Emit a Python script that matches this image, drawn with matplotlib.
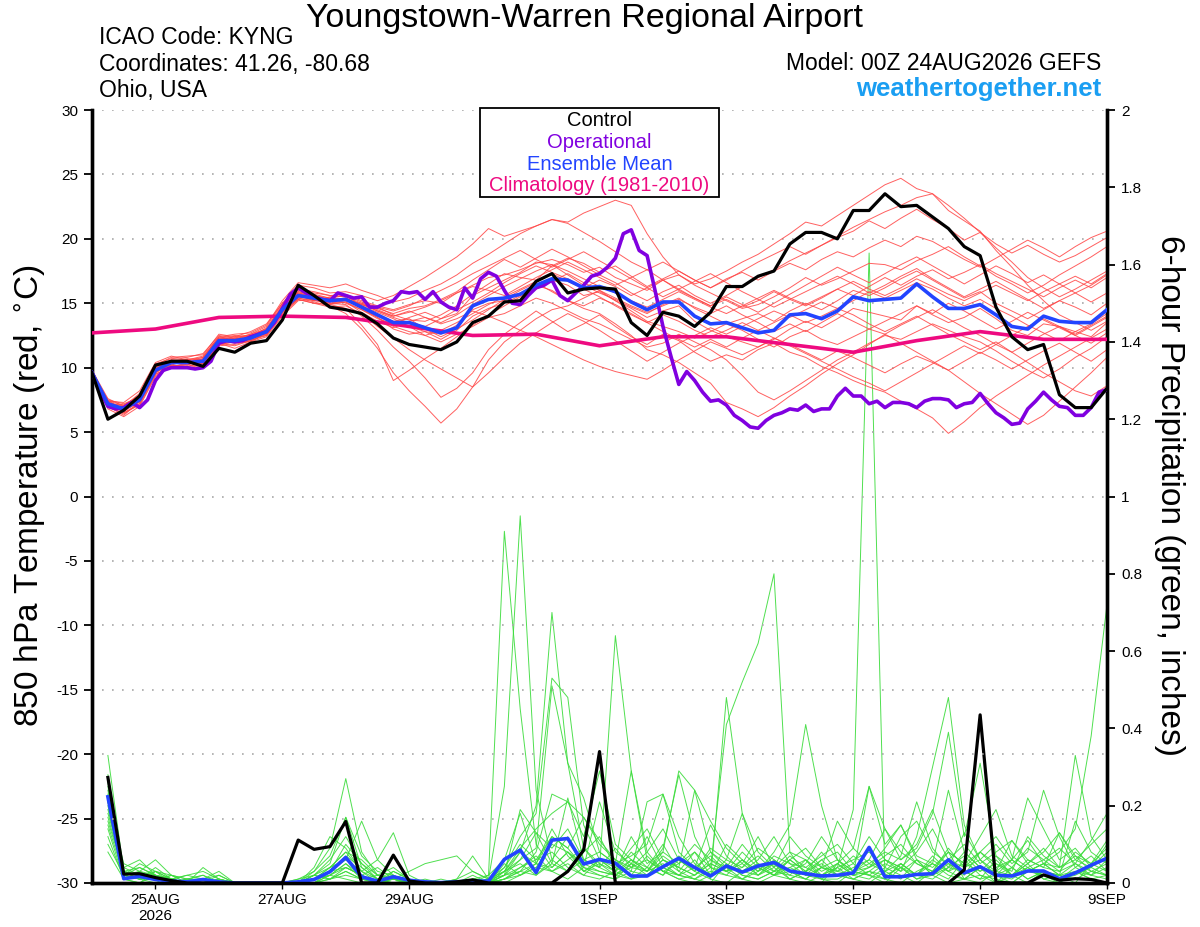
import matplotlib
matplotlib.use("Agg")
import matplotlib.pyplot as plt
from matplotlib.patches import Rectangle
import numpy as np

plt.rcParams['font.family'] = ['Liberation Sans', 'DejaVu Sans']
plt.rcParams['axes.unicode_minus'] = False

# ---- data (6-hourly from 24AUG2026 00Z) ----
ctrl_t = [9.6, 6.0, 6.7, 7.8, 10.2, 10.5, 10.5, 10.1, 11.5, 11.2, 11.9, 12.1, 13.7,
          16.4, 15.6, 14.7, 14.5, 14.2, 13.4, 12.3, 11.8, 11.6, 11.4, 12.0, 13.5, 14.0,
          15.1, 15.2, 16.7, 17.3, 15.8, 16.1, 16.2, 16.1, 13.5, 12.5, 14.3, 14.0, 13.2,
          14.3, 16.3, 16.3, 17.1, 17.5, 19.6, 20.5, 20.5, 20.0, 22.2, 22.2, 23.5, 22.5,
          22.6, 21.7, 20.8, 19.4, 18.7, 14.7, 12.4, 11.4, 11.8, 7.9, 6.9, 6.9, 8.4]

mean_t = [9.6, 7.2, 6.8, 7.5, 9.8, 10.4, 10.4, 10.5, 12.1, 12.1, 12.3, 12.8, 14.5,
          15.6, 15.4, 15.2, 15.3, 14.7, 14.1, 13.5, 13.5, 13.1, 12.7, 13.1, 14.8, 15.3,
          15.4, 15.7, 16.4, 16.9, 16.8, 16.2, 16.3, 15.9, 15.1, 14.5, 15.1, 15.1, 14.0,
          13.4, 13.5, 13.1, 12.7, 12.9, 14.1, 14.2, 13.8, 14.4, 15.5, 15.2, 15.3, 15.4,
          16.5, 15.5, 14.6, 14.6, 14.9, 14.1, 13.2, 13.0, 14.0, 13.6, 13.5, 13.5, 14.5]

# operational run is 3-hourly
oper_t = [9.6, 8.2, 7.0, 6.8, 6.9, 7.3, 6.9, 7.5, 9.0, 9.8, 10.0, 10.0, 10.0, 9.9,
          10.0, 10.5, 11.9, 12.1, 12.0, 12.1, 12.4, 12.6, 12.8, 13.5, 14.6, 15.7, 16.2,
          15.8, 15.5, 15.3, 15.2, 15.8, 15.6, 15.4, 15.5, 14.7, 14.7, 15.0, 15.2, 15.9,
          15.8, 15.9, 15.3, 15.9, 15.1, 14.7, 14.5, 16.2, 15.4, 16.9, 17.4, 17.1, 16.0,
          15.0, 14.9, 15.6, 16.2, 16.4, 16.8, 15.6, 15.2, 15.8, 16.4, 17.1, 17.3, 17.8,
          18.5, 20.4, 20.7, 19.1, 18.7, 16.0, 13.2, 10.9, 8.7, 9.7, 9.0, 8.1, 7.4, 7.5,
          7.1, 6.3, 5.9, 5.4, 5.3, 5.9, 6.3, 6.5, 6.8, 6.7, 7.1, 6.6, 6.8, 6.8, 7.8, 8.4,
          7.8, 7.8, 7.2, 7.4, 6.9, 7.3, 7.3, 7.2, 6.9, 7.4, 7.6, 7.6, 7.5, 6.9, 7.2, 7.3,
          8.0, 7.2, 6.5, 6.1, 5.6, 5.7, 6.8, 7.4, 8.1, 7.5, 7.0, 6.9, 6.3, 6.3, 6.9, 8.1,
          8.3]

# climatology is daily
clim_t = [12.7, 13.0, 13.9, 14.0, 13.9, 13.2, 12.5, 12.6, 11.7, 12.4, 12.4, 11.8,
          11.2, 12.1, 12.8, 12.2, 12.2]

members_t = [
    [9.8, 7.6, 7.0, 8.0, 10.2, 10.8, 10.9, 11.0, 12.6, 12.4, 12.8, 13.4, 15.0,
     16.0, 15.8, 15.6, 15.7, 15.2, 14.8, 14.5, 14.9, 15.2, 15.0, 15.8, 16.4, 17.0,
     17.2, 17.6, 18.1, 18.4, 18.0, 17.4, 17.8, 17.0, 16.5, 16.0, 16.8, 17.2, 16.5,
     16.9, 17.5, 18.2, 18.8, 19.6, 20.4, 21.3, 21.0, 21.8, 22.6, 23.4, 24.2, 24.7,
     23.9, 23.5, 22.2, 21.4, 20.6, 19.1, 17.8, 16.4, 15.2, 14.1, 13.5, 12.9, 13.6],
    [9.4, 7.0, 6.4, 7.2, 9.5, 10.0, 10.1, 10.4, 11.7, 11.8, 12.1, 12.6, 14.2,
     15.4, 15.1, 14.8, 14.2, 13.0, 11.5, 9.6, 8.2, 7.0, 5.7, 6.8, 8.5, 10.6,
     12.0, 12.9, 13.8, 14.5, 14.8, 15.4, 16.0, 15.2, 14.6, 13.9, 14.4, 14.8, 13.6,
     12.9, 12.4, 12.0, 11.6, 12.2, 13.0, 13.6, 13.1, 13.8, 14.6, 14.3, 14.0, 13.7,
     14.8, 14.1, 13.5, 13.9, 14.6, 13.8, 12.9, 12.5, 13.4, 13.2, 12.8, 12.4, 13.5],
    [9.7, 6.8, 6.2, 7.0, 9.3, 10.2, 10.0, 10.2, 11.9, 11.5, 12.0, 12.4, 14.0,
     15.2, 15.3, 15.0, 14.9, 14.0, 12.9, 11.6, 10.5, 9.2, 7.7, 8.4, 9.6, 11.4,
     12.6, 13.5, 14.4, 13.6, 12.8, 13.4, 14.1, 13.2, 12.4, 11.8, 12.6, 12.1, 11.2,
     10.5, 11.0, 10.6, 11.4, 11.9, 11.2, 10.8, 10.1, 9.6, 9.0, 8.5, 8.1, 7.4,
     6.8, 6.1, 4.9, 5.8, 6.9, 7.8, 8.6, 9.4, 10.2, 10.9, 11.6, 12.3, 13.0],
    [9.5, 7.4, 7.3, 8.2, 10.4, 10.9, 10.6, 10.9, 12.4, 12.6, 12.7, 13.3, 15.2,
     16.6, 16.4, 16.2, 16.5, 16.0, 15.6, 15.1, 15.4, 16.0, 16.5, 17.2, 18.1, 18.8,
     19.6, 20.4, 21.0, 21.5, 21.3, 22.0, 22.5, 23.0, 22.6, 20.4, 18.6, 17.2, 16.4,
     15.8, 15.2, 14.6, 14.9, 15.5, 16.2, 17.0, 16.4, 16.9, 17.5, 18.1, 18.0, 17.6,
     18.3, 18.8, 19.4, 18.6, 17.9, 17.1, 16.5, 15.8, 16.4, 17.2, 17.9, 18.6, 19.4],
    [9.9, 7.0, 6.9, 7.6, 9.6, 10.3, 10.6, 10.3, 12.0, 12.3, 12.2, 12.9, 14.6,
     15.7, 15.2, 15.4, 15.6, 14.8, 14.3, 13.8, 13.2, 12.5, 12.0, 12.6, 13.2, 13.9,
     14.2, 14.8, 15.4, 15.0, 14.4, 13.8, 13.4, 12.8, 12.2, 11.6, 11.9, 12.6, 12.0,
     11.4, 10.6, 9.4, 8.1, 7.5, 8.2, 9.0, 9.8, 10.6, 11.2, 11.9, 12.5, 12.2,
     12.8, 13.4, 12.9, 12.4, 12.0, 11.3, 10.5, 9.8, 9.2, 9.9, 10.8, 11.5, 12.4],
    [9.6, 7.5, 6.6, 7.4, 10.0, 10.6, 10.2, 10.7, 12.2, 12.0, 12.5, 12.6, 14.3,
     15.8, 15.6, 15.0, 15.2, 14.9, 14.6, 14.2, 14.6, 14.8, 15.3, 15.9, 16.8, 17.6,
     18.4, 17.8, 18.5, 19.2, 18.6, 17.9, 17.2, 16.6, 15.8, 15.2, 15.9, 16.4, 15.6,
     15.0, 15.6, 16.3, 17.0, 17.6, 18.3, 18.9, 19.5, 20.1, 20.6, 21.4, 20.8, 21.6,
     22.3, 21.5, 20.8, 19.9, 20.5, 19.6, 18.9, 19.5, 18.8, 18.2, 18.7, 19.4, 20.1],
    [9.3, 7.3, 7.0, 7.9, 9.9, 10.5, 10.7, 10.6, 12.3, 12.2, 12.4, 12.9, 14.8,
     15.9, 15.7, 15.4, 15.0, 14.5, 13.8, 13.4, 13.9, 14.3, 13.8, 14.2, 15.6, 16.2,
     16.8, 17.4, 18.2, 18.0, 17.2, 16.4, 15.8, 15.3, 14.7, 14.2, 14.9, 15.4, 14.6,
     14.0, 13.4, 13.8, 14.2, 13.6, 14.4, 15.0, 14.5, 15.2, 16.0, 15.6, 16.2, 16.9,
     17.5, 16.8, 16.1, 15.4, 15.9, 15.0, 14.4, 13.8, 14.5, 15.2, 14.7, 14.1, 15.0],
    [9.8, 7.1, 6.7, 7.3, 9.7, 10.1, 10.3, 10.5, 12.0, 12.1, 12.3, 12.5, 14.4,
     15.5, 15.5, 15.3, 15.4, 14.6, 13.9, 13.0, 12.6, 12.8, 12.2, 12.9, 14.0, 14.6,
     15.0, 15.6, 16.2, 16.8, 16.4, 15.6, 15.9, 15.2, 14.4, 13.6, 13.2, 12.8, 12.3,
     12.8, 13.4, 12.9, 12.2, 11.6, 12.4, 12.9, 12.2, 11.8, 12.4, 13.0, 12.6, 11.9,
     11.2, 10.5, 9.8, 8.9, 8.0, 7.2, 6.4, 5.6, 6.3, 7.4, 8.5, 9.6, 10.8],
    [9.5, 7.2, 6.9, 7.7, 10.1, 10.4, 10.5, 10.8, 12.3, 12.5, 12.4, 13.1, 14.7,
     15.6, 15.2, 15.5, 15.6, 15.1, 14.7, 14.1, 13.7, 13.6, 14.1, 14.8, 15.7, 16.5,
     17.3, 17.0, 16.8, 17.9, 18.5, 18.1, 17.4, 17.9, 17.1, 16.3, 16.9, 17.5, 16.8,
     16.2, 16.9, 17.4, 16.8, 17.5, 18.1, 17.6, 18.4, 19.0, 18.6, 19.3, 19.9, 19.4,
     20.2, 19.8, 19.1, 18.4, 17.8, 18.5, 19.2, 19.9, 19.3, 18.6, 19.4, 20.1, 20.6],
    [9.4, 6.9, 6.5, 7.1, 9.4, 10.0, 10.4, 10.1, 11.8, 12.0, 12.0, 12.7, 14.3,
     15.3, 15.0, 14.7, 14.8, 14.2, 13.2, 12.3, 11.4, 10.6, 9.9, 9.2, 8.5, 9.6,
     10.8, 11.9, 12.7, 13.5, 14.2, 13.6, 12.9, 12.1, 11.3, 10.5, 11.2, 11.9, 12.5,
     13.1, 12.6, 13.2, 13.8, 14.4, 13.9, 14.5, 15.1, 14.6, 15.2, 15.9, 15.4, 16.0,
     16.6, 16.1, 15.4, 14.8, 15.3, 14.6, 14.0, 13.3, 12.7, 12.1, 12.8, 13.4, 14.2],
    [9.7, 7.3, 6.8, 7.6, 9.8, 10.5, 10.3, 10.4, 12.1, 11.9, 12.2, 12.8, 14.5,
     15.5, 15.4, 15.1, 15.3, 14.6, 14.0, 13.6, 13.2, 12.8, 12.6, 13.3, 14.5, 15.0,
     15.2, 15.8, 16.4, 16.0, 15.2, 14.6, 14.2, 13.4, 12.5, 11.4, 11.0, 10.4, 9.6,
     8.8, 7.3, 6.8, 6.2, 6.9, 7.8, 8.6, 9.5, 10.3, 11.0, 11.8, 12.6, 13.3,
     13.9, 14.5, 13.8, 13.1, 12.5, 11.8, 11.2, 11.9, 12.6, 13.2, 12.5, 11.9, 12.7],
    [9.6, 7.4, 7.1, 7.8, 10.3, 10.7, 10.8, 11.1, 12.5, 12.3, 12.6, 13.2, 15.0,
     16.4, 16.2, 15.8, 15.9, 15.6, 15.2, 15.6, 16.3, 17.0, 17.8, 18.6, 19.6, 20.8,
     20.2, 20.6, 21.0, 21.5, 21.2, 20.5, 19.8, 19.0, 18.2, 17.6, 16.8, 16.0, 15.4,
     14.8, 15.3, 14.7, 15.2, 15.9, 15.3, 14.8, 15.4, 16.1, 15.6, 16.3, 17.0, 16.4,
     17.1, 17.6, 16.9, 17.4, 18.0, 17.3, 16.7, 16.1, 15.5, 16.2, 16.8, 16.2, 17.0],
    [9.8, 7.0, 6.3, 7.4, 9.5, 10.1, 10.2, 10.6, 11.9, 11.7, 12.1, 12.5, 14.1,
     15.3, 15.0, 14.9, 15.1, 14.3, 13.6, 13.1, 13.6, 13.9, 13.4, 13.8, 14.4, 14.0,
     13.5, 12.9, 12.4, 11.8, 11.2, 10.6, 10.1, 9.7, 9.4, 9.1, 9.8, 10.6, 11.3,
     12.0, 11.5, 11.0, 11.6, 12.3, 11.8, 11.2, 10.6, 11.3, 10.8, 10.2, 9.6, 10.3,
     10.9, 10.4, 9.8, 10.5, 11.2, 10.6, 9.9, 10.6, 11.3, 11.9, 11.2, 10.5, 11.4],
    [9.5, 7.5, 7.2, 7.7, 9.9, 10.6, 10.5, 10.6, 12.2, 12.4, 12.5, 13.0, 14.9,
     16.1, 15.9, 15.6, 15.5, 15.0, 14.4, 13.9, 13.5, 13.2, 13.8, 14.5, 15.1, 15.8,
     16.6, 17.3, 17.9, 17.4, 16.9, 16.2, 16.8, 16.3, 15.6, 16.2, 16.8, 16.1, 15.4,
     14.8, 15.5, 14.9, 14.3, 15.0, 15.7, 16.4, 17.1, 17.8, 17.2, 16.6, 17.3, 18.0,
     18.6, 17.9, 17.2, 16.5, 17.2, 17.9, 17.3, 16.6, 17.2, 16.5, 15.8, 16.4, 17.2],
    [9.6, 7.1, 6.6, 7.5, 9.7, 10.2, 10.6, 10.3, 12.1, 12.2, 12.3, 12.7, 14.4,
     15.5, 15.3, 14.9, 14.6, 13.3, 11.8, 9.0, 9.8, 10.7, 11.5, 12.4, 13.3, 14.1,
     14.8, 15.5, 16.1, 16.7, 17.3, 16.6, 16.0, 15.4, 14.8, 14.3, 14.8, 15.3, 14.7,
     14.2, 14.8, 14.1, 13.5, 12.8, 13.4, 12.8, 13.5, 14.2, 13.6, 13.0, 13.6, 14.2,
     14.8, 14.2, 15.0, 14.4, 13.7, 13.0, 13.6, 14.3, 13.7, 13.1, 12.5, 13.2, 13.9],
    [9.7, 7.3, 6.9, 7.5, 9.9, 10.3, 10.4, 10.5, 12.0, 12.3, 12.3, 12.8, 14.6,
     15.7, 15.6, 15.4, 15.3, 14.9, 14.5, 14.0, 14.3, 14.7, 15.2, 15.8, 16.3, 16.0,
     15.6, 16.3, 17.0, 17.6, 18.2, 17.6, 17.0, 16.4, 17.0, 17.6, 18.2, 17.5, 16.8,
     16.2, 16.8, 17.5, 18.2, 18.8, 19.4, 18.8, 19.5, 20.2, 20.9, 21.5, 22.1, 22.6,
     23.2, 23.5, 22.6, 21.6, 20.5, 19.3, 18.2, 17.0, 16.2, 15.5, 16.1, 16.8, 17.5],
    [9.4, 7.2, 6.7, 7.4, 9.6, 10.4, 10.3, 10.4, 12.0, 12.0, 12.2, 12.8, 14.5,
     15.6, 15.3, 15.2, 15.4, 14.8, 14.1, 13.6, 13.8, 13.0, 12.4, 13.0, 13.7, 14.5,
     15.3, 16.0, 16.6, 15.9, 15.2, 14.8, 15.4, 14.9, 14.2, 13.5, 14.1, 13.6, 12.9,
     12.4, 12.9, 13.5, 12.9, 13.5, 14.1, 13.5, 14.0, 14.6, 14.1, 13.4, 12.8, 13.4,
     14.0, 13.3, 12.6, 12.0, 11.4, 12.0, 11.2, 10.4, 9.6, 8.9, 8.2, 7.8, 8.6],
    [9.5, 7.0, 7.0, 7.6, 10.0, 10.5, 10.5, 10.7, 12.3, 12.2, 12.5, 12.9, 14.6,
     15.8, 15.5, 15.3, 15.2, 15.0, 14.7, 14.4, 14.8, 15.4, 16.0, 16.6, 17.3, 17.9,
     18.5, 19.1, 18.4, 17.8, 18.4, 19.0, 18.3, 17.6, 16.9, 16.2, 15.5, 16.1, 16.7,
     17.3, 16.6, 15.9, 15.3, 14.7, 15.3, 15.9, 16.5, 17.1, 16.5, 15.8, 16.4, 17.1,
     17.7, 16.9, 16.2, 15.5, 16.1, 16.7, 16.0, 15.3, 14.6, 15.2, 15.8, 15.1, 15.8],
    [9.8, 7.4, 6.5, 7.2, 9.7, 10.2, 10.1, 10.3, 11.8, 12.0, 12.1, 12.7, 14.3,
     15.4, 15.2, 15.0, 15.1, 14.5, 13.9, 13.2, 12.8, 12.5, 12.9, 13.5, 14.2, 14.9,
     15.5, 16.1, 16.7, 17.3, 16.7, 16.1, 15.5, 14.8, 14.1, 13.5, 12.8, 12.2, 11.6,
     12.2, 11.6, 12.3, 12.9, 12.3, 11.7, 11.1, 10.5, 9.9, 9.3, 8.8, 8.2, 8.9,
     9.6, 10.3, 11.0, 11.7, 11.1, 11.8, 12.5, 13.2, 13.8, 13.2, 12.6, 13.3, 14.0],
    [9.6, 7.2, 7.1, 7.8, 9.8, 10.6, 10.6, 10.8, 12.4, 12.2, 12.6, 13.0, 14.7,
     15.9, 15.6, 15.3, 15.4, 14.9, 14.4, 14.0, 14.4, 13.9, 13.5, 14.1, 14.9, 15.6,
     16.3, 16.9, 17.5, 18.0, 17.5, 16.9, 16.3, 15.8, 15.2, 14.7, 15.3, 15.9, 15.3,
     14.7, 14.2, 14.8, 15.4, 16.0, 15.4, 14.9, 15.5, 16.1, 16.7, 16.1, 15.6, 16.2,
     16.9, 16.3, 15.7, 15.2, 15.8, 16.4, 15.8, 15.2, 15.9, 16.5, 17.1, 16.5, 17.3],
]

# 6-hour precipitation (inches), valid 24AUG 06Z .. 9SEP 00Z
ctrl_p = [0.273, 0.023, 0.024, 0.014, 0.006, 0, 0, 0, 0, 0, 0, 0, 0.111, 0.087,
          0.094, 0.159, 0, 0, 0.072, 0.005, 0, 0, 0.003, 0.008, 0, 0, 0, 0, 0,
          0.03, 0.085, 0.34, 0, 0, 0, 0, 0, 0, 0, 0, 0, 0, 0, 0, 0, 0, 0, 0, 0, 0,
          0, 0, 0, 0, 0.034, 0.435, 0.002, 0, 0, 0.021, 0.007, 0.011, 0.009, 0]

mean_p = [0.223, 0.011, 0.017, 0.009, 0.005, 0.003, 0.009, 0.003, 0, 0, 0, 0,
          0.003, 0.009, 0.029, 0.066, 0.016, 0.005, 0.016, 0.007, 0.003, 0.001,
          0.003, 0.005, 0.005, 0.061, 0.085, 0.027, 0.111, 0.115, 0.049, 0.061,
          0.051, 0.018, 0.018, 0.042, 0.064, 0.04, 0.018, 0.044, 0.028, 0.044,
          0.053, 0.031, 0.024, 0.018, 0.02, 0.026, 0.092, 0.016, 0.016, 0.022,
          0.024, 0.06, 0.026, 0.042, 0.02, 0.018, 0.031, 0.031, 0.011, 0.026,
          0.046, 0.064]

# ensemble members, hundredths of an inch
members_p = [
    [33, 3, 2, 1, 0, 0, 0, 0, 0, 0, 0, 0, 0, 1, 4, 8, 3, 0, 2, 0, 0, 0, 0, 1, 2, 91, 45, 10, 4, 8, 3, 2,
     1, 5, 12, 4, 2, 6, 1, 0, 3, 2, 5, 1, 0, 2, 4, 1, 0, 3, 1, 6, 2, 0, 1, 4, 0, 2, 5, 1, 0, 3, 2, 6],
    [28, 2, 4, 2, 1, 0, 1, 0, 0, 0, 0, 0, 0, 0, 2, 5, 1, 0, 0, 0, 0, 0, 0, 0, 1, 25, 95, 24, 6, 12, 3, 5,
     2, 1, 4, 10, 3, 1, 0, 5, 2, 1, 3, 2, 6, 1, 0, 3, 2, 0, 4, 1, 3, 8, 1, 2, 0, 4, 1, 3, 2, 0, 5, 3],
    [24, 1, 2, 3, 1, 0, 1, 0, 0, 0, 0, 0, 0, 2, 6, 12, 5, 2, 4, 1, 0, 0, 0, 0, 0, 2, 8, 20, 70, 31, 9, 4,
     64, 29, 6, 3, 1, 0, 2, 4, 1, 0, 2, 3, 1, 0, 5, 2, 1, 4, 2, 0, 3, 1, 6, 2, 1, 0, 3, 2, 1, 4, 2, 1],
    [22, 4, 6, 2, 1, 2, 3, 1, 0, 0, 0, 0, 1, 3, 9, 27, 8, 2, 1, 0, 0, 0, 1, 3, 1, 4, 12, 18, 53, 48, 15, 6,
     3, 8, 4, 2, 6, 3, 1, 48, 18, 4, 2, 1, 3, 6, 2, 1, 3, 1, 5, 2, 1, 4, 3, 1, 6, 2, 0, 3, 1, 2, 4, 2],
    [20, 2, 3, 6, 2, 1, 1, 2, 0, 0, 0, 0, 0, 1, 3, 6, 16, 6, 2, 0, 0, 0, 0, 1, 0, 3, 6, 9, 51, 31, 22, 8,
     5, 29, 8, 3, 2, 1, 4, 41, 52, 62, 80, 8, 2, 1, 1, 3, 2, 1, 0, 3, 5, 2, 1, 0, 3, 2, 4, 1, 2, 3, 1, 0],
    [25, 1, 2, 1, 0, 1, 0, 0, 0, 0, 0, 0, 0, 0, 2, 4, 2, 0, 1, 0, 0, 0, 0, 0, 2, 6, 18, 5, 14, 7, 3, 6,
     4, 2, 7, 3, 1, 2, 5, 3, 1, 4, 2, 6, 3, 1, 4, 19, 163, 1, 5, 2, 6, 3, 1, 4, 2, 0, 3, 5, 2, 1, 3, 2],
    [17, 3, 1, 2, 1, 0, 0, 1, 0, 0, 0, 0, 1, 2, 5, 17, 4, 1, 0, 1, 0, 0, 0, 0, 0, 1, 3, 8, 23, 21, 17, 10,
     6, 3, 21, 23, 12, 5, 2, 10, 6, 3, 8, 15, 41, 20, 6, 2, 4, 6, 3, 12, 30, 48, 15, 6, 2, 1, 4, 2, 0, 3, 1, 2],
    [15, 2, 5, 3, 0, 1, 2, 0, 0, 0, 0, 0, 0, 4, 12, 9, 3, 6, 13, 2, 0, 1, 0, 2, 0, 5, 2, 4, 10, 8, 5, 3,
     2, 6, 3, 9, 28, 12, 4, 3, 6, 2, 4, 1, 3, 8, 3, 2, 25, 14, 6, 9, 18, 39, 12, 31, 7, 2, 5, 9, 4, 33, 12, 6],
    [12, 1, 3, 1, 2, 0, 4, 1, 0, 0, 0, 0, 0, 1, 4, 8, 6, 2, 1, 0, 0, 0, 1, 7, 1, 2, 4, 6, 12, 9, 4, 21,
     8, 5, 2, 6, 4, 24, 8, 5, 2, 1, 3, 4, 2, 6, 8, 3, 4, 9, 15, 7, 5, 24, 8, 4, 3, 6, 11, 5, 8, 14, 38, 72],
    [10, 2, 1, 4, 1, 0, 1, 3, 0, 0, 0, 0, 0, 2, 1, 3, 1, 0, 3, 1, 0, 0, 0, 0, 0, 4, 10, 6, 8, 4, 2, 6,
     3, 12, 5, 8, 29, 24, 16, 9, 5, 12, 4, 8, 6, 2, 4, 6, 8, 4, 12, 16, 8, 5, 2, 8, 12, 6, 22, 14, 6, 9, 4, 8],
    [21, 5, 3, 2, 0, 1, 2, 0, 0, 0, 0, 0, 0, 3, 7, 17, 7, 3, 2, 0, 1, 0, 0, 0, 1, 3, 5, 2, 6, 3, 8, 12,
     4, 9, 14, 6, 3, 8, 2, 6, 4, 9, 6, 3, 5, 12, 6, 3, 6, 14, 8, 5, 3, 9, 4, 6, 10, 5, 8, 24, 12, 4, 7, 3],
    [23, 1, 0, 3, 1, 0, 0, 2, 0, 0, 0, 0, 0, 1, 3, 4, 2, 4, 1, 0, 0, 0, 0, 0, 0, 2, 19, 13, 5, 22, 6, 4,
     9, 4, 8, 14, 6, 3, 9, 6, 18, 8, 4, 12, 7, 4, 16, 9, 5, 3, 7, 21, 9, 4, 13, 6, 3, 11, 5, 8, 13, 6, 4, 10],
    [19, 3, 2, 1, 1, 0, 0, 0, 0, 0, 0, 0, 0, 0, 1, 2, 1, 0, 0, 0, 0, 0, 0, 0, 0, 1, 2, 4, 3, 5, 2, 1,
     3, 1, 2, 4, 2, 1, 3, 2, 1, 3, 5, 2, 1, 4, 2, 1, 3, 2, 4, 1, 2, 5, 3, 1, 2, 4, 1, 3, 2, 5, 3, 2],
    [26, 2, 1, 0, 2, 1, 0, 1, 0, 0, 0, 0, 0, 0, 3, 10, 5, 1, 0, 0, 0, 0, 0, 1, 0, 2, 6, 13, 9, 14, 6, 8,
     5, 7, 10, 23, 8, 4, 15, 7, 3, 6, 12, 5, 4, 7, 10, 5, 12, 6, 4, 8, 14, 6, 10, 5, 8, 11, 6, 4, 13, 7, 5, 9],
    [18, 4, 2, 1, 0, 0, 1, 0, 0, 0, 0, 0, 0, 1, 2, 1, 0, 0, 1, 3, 5, 6, 7, 3, 1, 0, 2, 5, 3, 1, 4, 2,
     1, 3, 2, 6, 4, 2, 5, 3, 8, 4, 2, 6, 3, 5, 2, 4, 6, 3, 5, 2, 7, 3, 5, 8, 4, 6, 3, 5, 2, 16, 8, 5],
    [8, 1, 0, 2, 0, 0, 0, 0, 0, 0, 0, 0, 0, 0, 1, 3, 1, 2, 1, 0, 0, 0, 0, 0, 0, 1, 3, 2, 5, 3, 6, 4,
     2, 4, 6, 3, 5, 8, 4, 2, 6, 3, 7, 5, 2, 4, 6, 3, 5, 8, 6, 10, 19, 8, 5, 12, 19, 7, 4, 6, 9, 5, 11, 18],
    [16, 3, 4, 2, 1, 2, 1, 0, 0, 0, 0, 0, 0, 2, 4, 6, 3, 1, 2, 0, 0, 0, 0, 0, 1, 3, 8, 5, 12, 9, 17, 11,
     6, 4, 3, 8, 5, 10, 6, 3, 4, 7, 3, 6, 9, 4, 3, 7, 4, 7, 10, 5, 3, 6, 4, 8, 5, 3, 12, 7, 4, 6, 10, 14],
    [21, 2, 1, 3, 2, 0, 0, 1, 0, 0, 0, 0, 0, 1, 2, 5, 2, 0, 1, 0, 0, 0, 0, 0, 0, 1, 4, 7, 3, 6, 9, 5,
     3, 6, 4, 2, 7, 3, 8, 4, 10, 5, 3, 7, 4, 2, 5, 9, 25, 10, 15, 6, 4, 8, 5, 3, 7, 4, 9, 6, 3, 8, 5, 11],
    [27, 2, 1, 1, 0, 0, 0, 0, 0, 0, 0, 0, 0, 1, 3, 7, 4, 1, 3, 1, 0, 0, 0, 0, 0, 3, 9, 14, 18, 21, 12, 29,
     10, 6, 3, 5, 2, 4, 7, 3, 5, 2, 6, 3, 1, 4, 3, 5, 2, 5, 3, 6, 2, 4, 7, 3, 5, 2, 6, 4, 3, 5, 2, 4],
    [14, 1, 2, 1, 0, 1, 0, 0, 0, 0, 0, 0, 0, 2, 1, 4, 2, 0, 0, 0, 0, 0, 0, 0, 0, 2, 3, 5, 4, 8, 4, 3,
     2, 5, 3, 7, 4, 2, 6, 4, 3, 5, 2, 4, 6, 3, 5, 2, 3, 6, 4, 2, 5, 3, 8, 4, 2, 6, 3, 5, 4, 7, 3, 5],
]

tick_days = [1, 3, 5, 8, 10, 12, 14, 16]
tick_labels = ['25AUG\n2026', '27AUG', '29AUG', '1SEP', '3SEP', '5SEP', '7SEP', '9SEP']

# ---- colours ----
c_oper = '#8000e0'
c_mean = '#2244ff'
c_clim = '#ee0a80'
c_red = '#ff4444'
c_green = '#3cdc3c'

# ---- time axes (days since 24AUG 00Z) ----
t6 = np.arange(len(ctrl_t)) * 0.25
t3 = np.arange(len(oper_t)) * 0.125
tday = np.arange(len(clim_t)) * 1.0
tp = (np.arange(len(ctrl_p)) + 1) * 0.25

fig = plt.figure(figsize=(12, 9.27), dpi=100)
ax = fig.add_axes([0.0767, 0.0475, 0.8458, 0.8338])
ax2 = ax.twinx()
ax.set_zorder(ax2.get_zorder() + 1)
ax.patch.set_visible(False)

# precipitation (right axis)
for m in members_p:
    ax2.plot(tp, np.array(m) / 100.0, color=c_green, lw=0.7, alpha=0.9)
ax2.plot(tp, mean_p, color=c_mean, lw=2.6, zorder=5)
ax2.plot(tp, ctrl_p, color='black', lw=2.3, zorder=6)

# temperature (left axis)
for m in members_t:
    ax.plot(t6, m, color=c_red, lw=0.7, alpha=0.85)
ax.plot(tday, clim_t, color=c_clim, lw=2.6, zorder=5)
ax.plot(t3, oper_t, color=c_oper, lw=2.6, zorder=6)
ax.plot(t6, mean_t, color=c_mean, lw=2.6, zorder=7)
ax.plot(t6, ctrl_t, color='black', lw=2.3, zorder=8)

ax.set_xlim(0, 16)
ax.set_ylim(-30, 30)
ax2.set_ylim(0, 2)
ax.set_yticks(np.arange(-30, 31, 5))
ax2.set_yticks(np.arange(0, 2.01, 0.2))
ax2.set_yticklabels(['0', '0.2', '0.4', '0.6', '0.8', '1', '1.2', '1.4', '1.6', '1.8', '2'])
ax.set_xticks(tick_days)
ax.set_xticklabels(tick_labels)

for y in np.arange(-25, 31, 5):
    ax.axhline(y, color='#a8a8a8', lw=1.2, ls=(0, (1, 5)), zorder=0)

for a in (ax, ax2):
    a.spines['top'].set_visible(False)
    for s in ('left', 'right', 'bottom'):
        a.spines[s].set_linewidth(2.4)
ax.tick_params(axis='y', direction='out', length=6, width=1.3, labelsize=11, pad=4)
ax2.tick_params(axis='y', direction='out', length=6, width=1.3, labelsize=11, pad=4)
ax.tick_params(axis='x', direction='out', length=4, width=1.0, labelsize=11, pad=3)

# labels
fig.text(0.025, 0.465, '850 hPa Temperature (red, $^{\\circ}$C)', rotation=90,
         ha='center', va='center', fontsize=24)
fig.text(0.975, 0.465, '6-hour Precipitation (green, inches)', rotation=270,
         ha='center', va='center', fontsize=24)

fig.text(0.4875, 0.980, 'Youngstown-Warren Regional Airport', ha='center', va='center',
         fontsize=24.5)
fig.text(0.0825, 0.960, 'ICAO Code: KYNG', ha='left', va='center', fontsize=16.5)
fig.text(0.0825, 0.930, 'Coordinates: 41.26, -80.68', ha='left', va='center', fontsize=16.5)
fig.text(0.0825, 0.902, 'Ohio, USA', ha='left', va='center', fontsize=16.5)
fig.text(0.9175, 0.931, 'Model: 00Z 24AUG2026 GEFS', ha='right', va='center', fontsize=16.5)
fig.text(0.9175, 0.904, 'weathertogether.net', ha='right', va='center', fontsize=18.5,
         fontweight='bold', color='#1a9ef2')

# legend box
fig.patches.append(Rectangle((0.400, 0.7875), 0.199, 0.096, transform=fig.transFigure,
                             facecolor='white', edgecolor='black', lw=1.3, zorder=10))
leg_items = [('Control', 'black'), ('Operational', c_oper),
             ('Ensemble Mean', c_mean), ('Climatology (1981-2010)', c_clim)]
for k, (txt, col) in enumerate(leg_items):
    fig.text(0.4995, 1 - (121 + k * 21.5) / 927, txt, ha='center', va='center',
             fontsize=14.5, color=col, zorder=11)

fig.savefig('out.png', dpi=100)
